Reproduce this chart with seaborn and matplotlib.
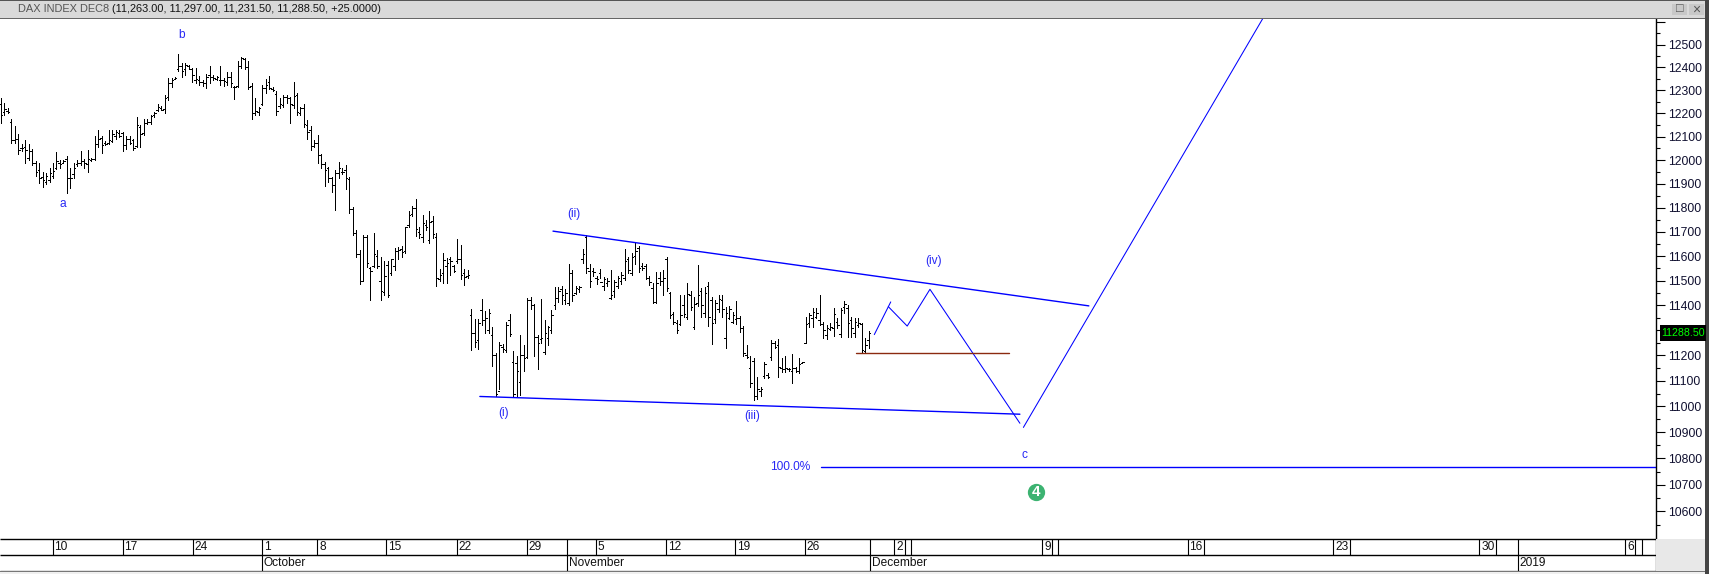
import numpy as np
import pandas as pd
import seaborn as sns
import matplotlib.pyplot as plt
from matplotlib.patches import Rectangle
from matplotlib.ticker import FixedLocator, FixedFormatter, NullFormatter

# price bars, ten per row
highs = [
    12265,12244,12222,12178,12145,12112,12069,12086,12069,12047,
    11997,11986,11951,11944,11965,11986,12035,12000,12000,12018,
    11965,11986,12000,12040,12003,12044,12011,12105,12127,12105,
    12083,12127,12130,12127,12127,12120,12105,12105,12091,12185,
    12149,12174,12174,12193,12207,12241,12232,12280,12353,12353,
    12360,12459,12418,12418,12411,12397,12397,12363,12346,12372,
    12407,12367,12363,12407,12353,12378,12378,12319,12426,12445,
    12440,12426,12331,12265,12226,12324,12348,12363,12313,12295,
    12265,12280,12280,12273,12338,12287,12229,12241,12171,12145,
    12086,12108,12025,11993,11972,11931,11958,11993,11965,11979,
    11931,11803,11708,11625,11687,11687,11556,11694,11625,11597,
    11581,11581,11590,11632,11639,11642,11722,11785,11806,11838,
    11722,11771,11750,11785,11767,11694,11546,11611,11594,11597,
    11565,11669,11646,11549,11542,11384,11344,11344,11425,11377,
    11384,11315,11209,11255,11246,11335,11365,11217,11198,11282,
    11242,11431,11434,11407,11282,11427,11341,11317,11381,11474,
    11476,11480,11467,11567,11542,11480,11480,11628,11687,11567,
    11553,11517,11549,11514,11511,11542,11503,11517,11535,11628,
    11597,11614,11656,11642,11572,11569,11517,11489,11535,11537,
    11544,11597,11454,11374,11341,11440,11440,11489,11460,11434,
    11562,11471,11474,11493,11434,11421,11440,11440,11394,11397,
    11374,11417,11357,11317,11242,11196,11189,11116,11077,11176,
    11132,11262,11259,11265,11189,11196,11149,11206,11156,11189,
    11176,11352,11370,11388,11388,11440,11335,11321,11328,11388,
    11348,11388,11417,11401,11352,11348,11348,11331,11269,11297,
]
lows = [
    12159,12193,12200,12072,12072,12028,12040,11986,12000,11979,
    11935,11903,11885,11899,11906,11924,11961,11965,11986,11861,
    11882,11924,11976,11979,11965,11951,11997,12000,12054,12032,
    12066,12069,12076,12091,12098,12040,12047,12069,12043,12054,
    12057,12108,12156,12156,12185,12212,12214,12203,12258,12316,
    12348,12385,12357,12367,12392,12338,12331,12324,12319,12309,
    12331,12346,12346,12324,12319,12324,12316,12261,12313,12397,
    12394,12305,12178,12193,12193,12236,12287,12305,12295,12193,
    12222,12229,12244,12159,12222,12193,12193,12142,12091,12043,
    12054,11986,11965,11889,11910,11868,11789,11926,11942,11878,
    11778,11687,11597,11487,11503,11556,11423,11556,11551,11423,
    11440,11434,11521,11542,11590,11597,11611,11722,11764,11681,
    11674,11660,11708,11653,11674,11478,11500,11489,11491,11521,
    11535,11573,11507,11481,11511,11220,11235,11225,11321,11291,
    11291,11160,11040,11070,11213,11213,11279,11037,11037,11044,
    11139,11189,11384,11196,11147,11249,11204,11242,11291,11385,
    11414,11407,11407,11401,11418,11447,11454,11572,11530,11474,
    11517,11487,11511,11464,11480,11425,11434,11470,11487,11503,
    11530,11521,11567,11535,11544,11507,11484,11410,11410,11484,
    11440,11460,11348,11325,11291,11321,11354,11344,11381,11304,
    11397,11352,11354,11317,11246,11328,11374,11354,11229,11344,
    11328,11325,11295,11196,11189,11077,11026,11030,11040,11110,
    11110,11183,11229,11114,11136,11136,11140,11090,11136,11132,
    11169,11249,11315,11315,11348,11321,11269,11265,11302,11278,
    11308,11275,11368,11275,11275,11275,11315,11212,11212,11231.5,
]
opens = [
    12240,12205,12212,12165,12088,12090,12050,12055,12010,12040,
    11990,11960,11930,11910,11915,11935,11965,11990,11990,12005,
    11925,11940,11985,11990,11995,11985,12000,12005,12070,12095,
    12072,12075,12080,12105,12115,12115,12065,12090,12085,12060,
    12140,12115,12160,12165,12195,12215,12225,12220,12270,12330,
    12350,12395,12405,12395,12408,12395,12345,12345,12335,12330,
    12365,12360,12350,12345,12345,12335,12360,12315,12320,12405,
    12435,12400,12320,12200,12205,12240,12310,12335,12305,12285,
    12230,12235,12270,12265,12235,12280,12200,12225,12150,12130,
    12060,12075,12020,11985,11965,11925,11895,11945,11950,11960,
    11920,11795,11695,11610,11500,11680,11550,11560,11600,11500,
    11455,11565,11530,11560,11620,11630,11620,11730,11775,11800,
    11700,11680,11730,11665,11745,11680,11505,11530,11560,11590,
    11560,11580,11590,11530,11520,11360,11290,11260,11380,11340,
    11300,11280,11200,11060,11235,11220,11340,11175,11170,11095,
    11200,11195,11420,11400,11275,11265,11215,11270,11300,11400,
    11430,11465,11420,11410,11530,11450,11465,11590,11680,11540,
    11540,11510,11530,11480,11490,11430,11460,11480,11500,11510,
    11590,11530,11600,11635,11560,11560,11510,11470,11415,11510,
    11500,11590,11450,11365,11330,11325,11400,11355,11440,11315,
    11410,11460,11370,11480,11420,11345,11385,11420,11270,11350,
    11335,11345,11350,11310,11200,11150,11180,11040,11060,11120,
    11125,11195,11250,11240,11150,11145,11145,11140,11150,11140,
    11170,11250,11330,11350,11355,11340,11325,11280,11305,11310,
    11335,11285,11395,11390,11340,11290,11320,11325,11218,11263,
]
closes = [
    12193,12218,12205,12085,12090,12045,12052,12045,12040,11990,
    11950,11925,11915,11935,11945,11955,11995,11985,11995,11925,
    11925,11965,11990,11995,11990,12005,12005,12070,12090,12065,
    12070,12085,12110,12120,12102,12065,12090,12075,12050,12150,
    12110,12160,12165,12190,12200,12228,12216,12265,12330,12345,
    12355,12405,12385,12410,12395,12365,12350,12335,12330,12360,
    12360,12352,12358,12345,12340,12360,12330,12315,12405,12440,
    12400,12315,12200,12210,12225,12310,12325,12310,12300,12210,
    12240,12270,12268,12240,12275,12205,12222,12155,12120,12060,
    12075,12020,11985,11960,11925,11895,11945,11965,11952,11925,
    11795,11695,11610,11500,11680,11570,11540,11610,11560,11460,
    11520,11440,11590,11620,11625,11615,11720,11770,11800,11710,
    11690,11735,11720,11740,11690,11510,11525,11585,11570,11580,
    11538,11590,11525,11515,11525,11290,11255,11330,11340,11350,
    11370,11200,11050,11240,11225,11320,11285,11050,11140,11200,
    11190,11420,11400,11275,11250,11270,11290,11315,11360,11430,
    11460,11440,11450,11530,11440,11470,11475,11610,11550,11500,
    11535,11505,11495,11505,11500,11440,11495,11510,11525,11580,
    11545,11595,11620,11550,11550,11510,11495,11415,11490,11500,
    11510,11470,11360,11335,11300,11360,11365,11445,11395,11405,
    11440,11400,11450,11355,11330,11410,11425,11385,11370,11385,
    11360,11350,11310,11210,11195,11090,11040,11070,11070,11165,
    11115,11250,11235,11155,11145,11150,11145,11150,11140,11165,
    11175,11325,11360,11375,11370,11325,11300,11310,11315,11365,
    11320,11380,11405,11330,11310,11335,11330,11220,11240,11288.5,
]

# drawn lines: bar number, price
upper_bars, upper_prices = [158, 311.1], [11703, 11398]
lower_bars, lower_prices = [137.1, 291.4], [11039, 10970]
leg1_bars, leg1_prices = [249.8, 254.5], [11283, 11414]
leg2_bars, leg2_prices = [253.8, 259.2, 265.7, 291.4], [11395, 11317, 11465, 10935]
leg3_bars, leg3_prices = [292.4, 360.8], [10919, 12616]
support_bars, support_prices = [244.6, 288.3], [11208, 11208]
fib_bars, fib_prices = [234.6, 473], [10766, 10766]

wave_labels = ["a", "b", "(i)", "(ii)", "(iii)", "(iv)", "c", "100.0%"]
label_bars = [17.9, 51.9, 143.9, 164.1, 214.8, 266.7, 292.7, 225.7]
label_prices = [11815, 12543, 10975, 11774, 10963, 11580, 10812, 10766]

price_ticks = list(range(10600, 12501, 100))
extra_major = [12600]
minor_ticks = list(range(10500, 12651, 100))

day_labels = ["10", "17", "24", "1", "8", "15", "22", "29", "5", "12", "19", "26",
              "2", "9", "16", "23", "30", "6"]
day_bars = [15, 35, 55, 74.8, 90.7, 110.4, 130.5, 150.5, 170.2, 190.3, 209.9, 229.9,
            255.5, 297.8, 339.3, 380.9, 422.7, 464.4]
divider_bars = [162.1, 248.7, 258.7, 260.4, 300.6, 302.4, 344, 385.7, 427.4, 433.6, 467.1, 469.1]
month_labels = ["October", "November", "December", "2019"]
month_bars = [74.8, 162.1, 248.7, 433.6]

W, H = 1709, 574
BLUE = "#0000FF"
TEXT_BLUE = "#2828F5"
BAR_STEP = 0.996

sns.set_theme(style="white")
plt.rcParams["font.family"] = ["Liberation Sans", "DejaVu Sans"]

fig = plt.figure(figsize=(W / 100, H / 100), dpi=100, facecolor="white")


def px_box(x0, y0, x1, y1):
    return [x0 / W, 1 - y1 / H, (x1 - x0) / W, (y1 - y0) / H]


def strip(x0, y0, x1, y1, color, zorder=1):
    fig.add_artist(Rectangle((x0 / W, 1 - y1 / H), (x1 - x0) / W, (y1 - y0) / H,
                             transform=fig.transFigure, color=color, lw=0, zorder=zorder))


# window furniture
strip(0, 0, W, 1, "#555555")
strip(0, 1, 1705, 18, "#D9D9D9")
strip(0, 18, 1705, 19, "#666666")
strip(1705, 0, W, 574, "#444444")
strip(1656, 539, 1705, 571, "#E8E8E8")
strip(0, 571, 1705, 572, "#777777")
strip(0, 572, 1705, 574, "#F0F0F0")
strip(1672, 4, 1687, 15, "#C8C8C8")
strip(1689, 4, 1704, 15, "#C8C8C8")
fig.text(1679.5 / W, 1 - 9.5 / H, "\u25a1", ha="center", va="center", fontsize=9, color="#555555")
fig.text(1696.5 / W, 1 - 9.5 / H, "\u00d7", ha="center", va="center", fontsize=10, color="#555555")
fig.text(18 / W, 1 - 9.5 / H, "DAX INDEX DEC8", ha="left", va="center", fontsize=7.9, color="#555555")
fig.text(111.5 / W, 1 - 9.5 / H, "(11,263.00, 11,297.00, 11,231.50, 11,288.50, +25.0000)",
         ha="left", va="center", fontsize=7.95, color="#111111")

ax = fig.add_axes(px_box(0, 18.5, 1655.5, 538.7))
ax.set_yscale("log")

bars = pd.DataFrame({"bar": np.arange(len(highs)) * BAR_STEP + 0.2, "high": highs, "low": lows,
                     "open": opens, "close": closes})

# stems and the open/close ticks as separate little lines
stems = bars.melt(id_vars="bar", value_vars=["high", "low"], value_name="price")
sns.lineplot(data=stems, x="bar", y="price", units="bar", estimator=None, sort=False,
             color="black", lw=0.72, antialiased=False, ax=ax, legend=False)
open_ticks = pd.concat([bars.assign(x=bars["bar"] - 0.42), bars.assign(x=bars["bar"])])
sns.lineplot(data=open_ticks, x="x", y="open", units="bar", estimator=None, sort=False,
             color="black", lw=0.6, antialiased=False, ax=ax, legend=False)
close_ticks = pd.concat([bars.assign(x=bars["bar"]), bars.assign(x=bars["bar"] + 0.42)])
sns.lineplot(data=close_ticks, x="x", y="close", units="bar", estimator=None, sort=False,
             color="black", lw=0.6, antialiased=False, ax=ax, legend=False)

for xs, ys, width in [(upper_bars, upper_prices, 1.0), (lower_bars, lower_prices, 1.0),
                      (leg1_bars, leg1_prices, 0.75), (leg2_bars, leg2_prices, 0.75),
                      (leg3_bars, leg3_prices, 0.75), (fib_bars, fib_prices, 1.0)]:
    sns.lineplot(x=xs, y=ys, sort=False, estimator=None, color=BLUE, lw=width, ax=ax)
sns.lineplot(x=support_bars, y=support_prices, sort=False, estimator=None,
             color="#8B2A10", lw=1.0, ax=ax)

for name, bx, price in zip(wave_labels, label_bars, label_prices):
    ax.text(bx, price, name, color=TEXT_BLUE, fontsize=8.6, ha="center", va="center")

sns.scatterplot(x=[296.1], y=[10673], s=155, color="#3CB371", linewidth=0, ax=ax)
ax.text(296.1, 10673, "4", color="white", fontsize=11, fontweight="bold", ha="center", va="center")

ax.set_xlim(0, 473)
ax.set_ylim(10498, 12616)
ax.set_xlabel("")
ax.set_ylabel("")
ax.set_xticks([])
ax.yaxis.tick_right()
ax.yaxis.set_major_locator(FixedLocator(price_ticks + extra_major))
# the last-price box sits over the 11300 label
ax.yaxis.set_major_formatter(FixedFormatter(["" if p == 11300 else str(p) for p in price_ticks] + [""]))
ax.yaxis.set_minor_locator(FixedLocator([p + 50 for p in minor_ticks]))
ax.yaxis.set_minor_formatter(NullFormatter())
ax.tick_params(axis="y", which="major", right=True, length=6.5, width=0.8, pad=2.5,
               labelsize=8.7, labelcolor="#101030", color="black")
ax.tick_params(axis="y", which="minor", right=True, length=3, width=0.8, color="black")
for side in ["top", "left"]:
    ax.spines[side].set_visible(False)
ax.spines["right"].set_linewidth(1.0)
ax.spines["right"].set_color("black")
ax.spines["bottom"].set_visible(False)

# last price box on the scale
last_px = H - ax.transData.transform((0, closes[-1]))[1]
strip(1660, last_px - 8, 1706, last_px + 8, "black", zorder=5)
fig.text(1683 / W, 1 - last_px / H, f"{closes[-1]:.2f}", color="#00FF00", fontsize=7.7,
         ha="center", va="center", zorder=6)

# date strip under the chart
dates = fig.add_axes(px_box(0, 538.7, 1655.5, 571))
dates.set_xlim(0, 473)
dates.set_ylim(2, 0)
dates.axis("off")
dates.hlines([0, 1], 0, 473, color="black", lw=1.0, clip_on=False)
dates.hlines([2], 0, 473, color="#666666", lw=1.0, clip_on=False)
dates.vlines(day_bars, 0, 1, color="black", lw=0.8)
dates.vlines(divider_bars, 0, 1, color="black", lw=0.8)
dates.vlines(month_bars, 1, 2, color="black", lw=0.8)
dates.vlines([473], 0, 2, color="black", lw=0.9, clip_on=False)
for name, bx in zip(day_labels, day_bars):
    dates.text(bx + 0.55, 0.52, name, fontsize=8.6, color="#111111", ha="left", va="center")
for name, bx in zip(month_labels, month_bars):
    dates.text(bx + 0.55, 1.52, name, fontsize=8.6, color="#111111", ha="left", va="center")

fig.savefig("out.png", dpi=100)
